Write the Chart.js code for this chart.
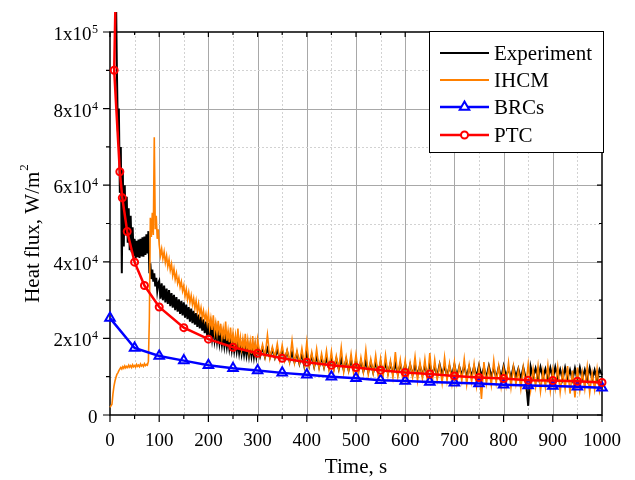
<!DOCTYPE html>
<html>
<head>
<meta charset="utf-8">
<script src="https://cdn.jsdelivr.net/npm/chart.js@4.4.0/dist/chart.umd.min.js"></script>
<style>
  html, body { margin: 0; padding: 0; background: #fff; }
  #chart { display: block; }
</style>
</head>
<body>
<canvas id="chart" width="635" height="480"></canvas>
<script>
// values in kW/m2 for the noisy series, W/m2 for the model points
const expEarlyStart = 10, expEarlyStep = 2;
const expEarly = [150, 112, 90, 74, 80, 58, 70, 37, 64, 44, 60, 47, 57, 45, 54, 43, 52, 42.5, 49, 41.5,
  46, 40.8, 45.5, 41.2, 45.8, 41.0, 46.0, 41.4, 46.4, 41.3, 46.6, 41.8, 47.2, 42.2, 48.0, 37.0, 39.6, 35.5,
  38.0, 34.8, 37.0, 33.6, 35.8, 32.4, 34.4];
const expMidStart = 100, expMidStep = 2.5;
const expMid = [
  35.0, 30.4, 34.4, 30.0, 33.8, 29.4, 33.0, 29.0, 32.6, 28.4,
  31.8, 28.0, 31.4, 27.4, 30.8, 27.0, 30.2, 26.4, 29.8, 26.0,
  29.4, 25.4, 28.8, 25.0, 28.2, 24.4, 27.8, 24.0, 27.2, 23.6,
  26.6, 23.0, 26.2, 22.6, 25.6, 22.0, 25.0, 21.4, 24.4, 20.8,
  24.0, 20.4, 23.4, 20.0, 23.0, 19.6, 22.4, 19.2, 22.0, 18.8,
  21.6, 18.4, 21.0, 18.0, 20.6, 17.8, 20.2, 17.4, 19.8, 17.0,
  19.6, 16.8, 19.2, 16.6, 19.0, 16.2, 18.6, 16.0, 18.4, 15.8,
  18.2, 15.6, 18.0, 15.4, 17.9, 15.4, 17.8, 15.2, 17.8, 15.3];
const expLateStart = 300, expLateStep = 5;
const expLate = [
  17.8, 15.2, 17.6, 15.1, 17.3, 15.0, 17.1, 14.9, 17.0, 14.8,
  16.8, 14.4, 16.6, 14.0, 16.3, 13.8, 16.1, 13.4, 16.0, 12.7,
  16.2, 12.9, 15.6, 12.6, 15.3, 12.5, 15.0, 12.4, 14.9, 12.3,
  14.8, 12.1, 14.7, 12.0, 14.5, 11.8, 14.4, 11.7, 14.3, 11.7,
  14.2, 11.5, 14.0, 11.4, 13.9, 11.2, 13.8, 11.1, 13.7, 11.1,
  13.6, 11.0, 13.5, 10.9, 13.4, 10.8, 13.3, 10.7, 13.3, 10.7,
  13.2, 10.6, 13.1, 10.5, 13.0, 10.5, 12.9, 10.4, 12.9, 10.3,
  13.3, 10.6, 12.7, 10.1, 13.2, 10.5, 12.8, 10.2, 12.7, 10.2,
  13.1, 10.0, 12.6, 10.4, 13.0, 9.9, 12.5, 10.1, 12.6, 9.9,
  12.9, 10.2, 12.4, 9.8, 12.8, 10.0, 12.3, 9.7, 12.5, 9.7,
  12.8, 10.0, 12.2, 9.6, 12.6, 9.9, 12.1, 9.5, 12.4, 9.6,
  2.4, 12.6, 9.8, 12.2, 9.5, 12.5, 9.7, 12.0, 9.4, 12.3,
  9.4, 12.5, 9.6, 11.9, 9.3, 12.4, 9.5, 11.8, 9.2, 12.2,
  9.2, 12.4, 9.4, 11.8, 9.1, 12.3, 9.3, 11.7, 9.0, 11.9,
  10.4];

const ihcmEarlyStart = 0, ihcmEarlyStep = 2;
const ihcmEarly = [2.0, 2.0, 2.8, 5.5, 7.5, 8.8, 9.8, 10.6, 11.0, 11.6, 12.0, 12.4, 12.0, 12.6, 12.2, 12.8,
  12.3, 12.7, 12.4, 13.0, 12.5, 12.9, 12.4, 13.1, 12.6, 12.9, 12.5, 13.2, 12.7, 13.0, 12.6, 13.3, 12.8,
  13.1, 12.7, 13.4, 12.9, 13.2, 13.0, 14.0, 25.0, 51.5, 46.5, 52.8, 47.0, 72.5, 48.5, 52.0, 46.0, 48.5];
const ihcmMidStart = 100, ihcmMidStep = 2.5;
const ihcmMid = [
  44.5, 41.6, 43.4, 40.8, 42.6, 39.8, 41.6, 38.8, 40.6, 37.8,
  39.4, 36.4, 38.2, 35.4, 37.0, 34.4, 35.8, 33.4, 34.8, 32.4,
  33.8, 31.0, 32.8, 30.2, 32.0, 29.4, 31.2, 28.8, 30.4, 27.8,
  29.8, 27.0, 29.0, 26.2, 28.0, 25.4, 27.2, 24.8, 26.4, 24.0,
  26.6, 22.8, 25.2, 22.2, 26.0, 21.6, 24.0, 21.2, 24.6, 20.8,
  23.8, 20.2, 22.6, 19.8, 24.4, 19.4, 22.0, 19.0, 22.8, 18.6,
  21.4, 18.2, 20.8, 17.8, 22.6, 17.4, 20.2, 17.2, 19.8, 16.8,
  21.2, 16.6, 19.6, 16.4, 19.2, 16.0, 20.6, 15.8, 18.8, 15.6];
const ihcmLateStart = 300, ihcmLateStep = 5;
const ihcmLate = [
  19.8, 15.6, 18.4, 15.2, 20.9, 14.8, 17.8, 15.0, 18.6, 14.4,
  18.2, 14.2, 17.0, 13.8, 19.4, 13.6, 16.8, 13.5, 17.4, 13.0,
  19.1, 12.8, 16.4, 12.6, 17.2, 12.2, 16.0, 12.4, 16.8, 11.8,
  16.6, 11.6, 15.4, 11.9, 17.6, 11.2, 15.2, 11.5, 16.0, 11.0,
  15.8, 10.8, 15.0, 11.2, 17.0, 10.6, 14.6, 10.9, 15.6, 10.2,
  14.8, 10.0, 15.6, 10.4, 14.2, 9.8, 16.4, 10.1, 14.4, 9.4,
  14.2, 9.2, 13.6, 9.8, 15.2, 9.0, 13.8, 9.5, 14.6, 8.8,
  16.2, 8.6, 14.4, 9.2, 13.2, 8.4, 15.0, 9.0, 13.4, 8.2,
  13.8, 8.4, 12.8, 8.9, 14.6, 8.0, 13.0, 8.6, 13.4, 7.6,
  12.6, 4.2, 13.8, 8.2, 12.4, 7.8, 14.2, 8.4, 12.8, 7.4,
  12.2, 7.8, 13.6, 7.2, 12.6, 8.0, 11.8, 6.8, 12.4, 7.6,
  13.2, 6.6, 12.0, 7.4, 12.8, 6.2, 11.6, 7.2, 13.0, 6.4,
  11.8, 7.0, 12.6, 6.0, 11.4, 6.8, 12.8, 5.6, 11.6, 4.6,
  12.4, 6.4, 11.2, 6.8, 12.6, 5.8, 11.0, 6.6, 12.0, 6.2,
  9.0];

const brcTime = [0, 50, 100, 150, 200, 250, 300, 350, 400, 450, 500, 550, 600, 650, 700, 750, 800, 850, 900, 950, 1000];
const brcFlux = [25300, 17500, 15400, 14200, 13000, 12200, 11600, 11000, 10500, 10000, 9600, 9100, 8900, 8600,
  8400, 8200, 7900, 7700, 7600, 7400, 7100];

const ptcTime = [13, 8.5, 20, 25, 35, 50, 70, 100, 150, 200, 250, 300, 350, 400, 450, 500, 550, 600, 650, 700,
  750, 800, 850, 900, 950, 1000];
const ptcFlux = [120000, 90000, 63500, 56700, 47900, 39900, 33800, 28200, 22800, 19800, 17700, 16100, 14800,
  13800, 13000, 12400, 11700, 11100, 10700, 10200, 9800, 9500, 9100, 9000, 8800, 8500];

const yTickLabels = { 0: ['0', ''], 20000: ['2x10', '4'], 40000: ['4x10', '4'], 60000: ['6x10', '4'],
  80000: ['8x10', '4'], 100000: ['1x10', '5'] };
const xTitle = 'Time, s';
const yTitle = ['Heat flux, W/m', '2'];

function seg(start, step, vals) {
  return vals.map((v, i) => ({ x: start + i * step, y: v * 1000 }));
}
function pairs(t, q) {
  return t.map((v, i) => ({ x: v, y: q[i] }));
}

const serif = '"Liberation Serif", "Times New Roman", serif';
const clip = { left: 10, top: 20, right: 10, bottom: 10 };

const framePlugin = {
  id: 'frame',
  beforeDatasetsDraw(chart) {
    const ctx = chart.ctx, a = chart.chartArea;
    const xs = chart.scales.x, ys = chart.scales.y;
    ctx.save();
    ctx.lineWidth = 1;
    xs.ticks.forEach(t => {
      if (t.value <= 0 || t.value >= 1000) return;
      const px = Math.round(xs.getPixelForValue(t.value)) + 0.5;
      const major = t.value % 100 === 0;
      ctx.strokeStyle = major ? '#a8a8a8' : '#d2d2d2';
      ctx.setLineDash(major ? [] : [2, 2]);
      ctx.beginPath(); ctx.moveTo(px, a.top); ctx.lineTo(px, a.bottom); ctx.stroke();
    });
    ys.ticks.forEach(t => {
      if (t.value <= 0 || t.value >= 100000) return;
      const py = Math.round(ys.getPixelForValue(t.value)) + 0.5;
      const major = t.value % 20000 === 0;
      ctx.strokeStyle = major ? '#a8a8a8' : '#d2d2d2';
      ctx.setLineDash(major ? [] : [2, 2]);
      ctx.beginPath(); ctx.moveTo(a.left, py); ctx.lineTo(a.right, py); ctx.stroke();
    });
    ctx.setLineDash([]);
    ctx.strokeStyle = '#000';
    ctx.lineWidth = 1.5;
    ctx.strokeRect(a.left, a.top, a.right - a.left, a.bottom - a.top);
    ctx.lineWidth = 1.2;
    xs.ticks.forEach(t => {
      const px = xs.getPixelForValue(t.value);
      const major = t.value % 100 === 0;
      ctx.beginPath();
      ctx.moveTo(px, a.bottom); ctx.lineTo(px, a.bottom + (major ? 7 : 4));
      ctx.moveTo(px, a.top); ctx.lineTo(px, a.top + (major ? 5 : 3));
      ctx.stroke();
    });
    ys.ticks.forEach(t => {
      const py = ys.getPixelForValue(t.value);
      const major = t.value % 20000 === 0;
      ctx.beginPath();
      ctx.moveTo(a.left, py); ctx.lineTo(a.left - (major ? 7 : 4), py);
      ctx.moveTo(a.right, py); ctx.lineTo(a.right - (major ? 5 : 3), py);
      ctx.stroke();
    });
    ctx.restore();
  },
  afterDatasetsDraw(chart) {
    const ctx = chart.ctx;
    // legend box
    const bx = 429, by = 31, bw = 174, bh = 121;
    ctx.save();
    ctx.fillStyle = '#fff';
    ctx.fillRect(bx, by, bw, bh);
    ctx.strokeStyle = '#000';
    ctx.lineWidth = 1;
    ctx.strokeRect(bx + 0.5, by + 0.5, bw, bh);
    const rows = [53, 80, 107, 135];
    chart.data.datasets.forEach((ds, i) => {
      const y = rows[i];
      ctx.strokeStyle = ds.borderColor;
      ctx.lineWidth = Math.max(ds.borderWidth, 2);
      ctx.beginPath(); ctx.moveTo(440, y); ctx.lineTo(489, y); ctx.stroke();
      if (ds.pointRadius > 0) {
        const cx = 464.5, r = ds.pointRadius;
        ctx.lineWidth = ds.pointBorderWidth;
        ctx.fillStyle = '#fff';
        ctx.beginPath();
        if (ds.pointStyle === 'triangle') {
          for (let k = 0; k < 3; k++) {
            const ang = k * 2 * Math.PI / 3;
            const px = cx + Math.sin(ang) * r, py = y - Math.cos(ang) * r;
            if (k === 0) ctx.moveTo(px, py); else ctx.lineTo(px, py);
          }
          ctx.closePath();
        } else {
          ctx.arc(cx, y, r, 0, Math.PI * 2);
        }
        ctx.fill(); ctx.stroke();
      }
      ctx.fillStyle = '#000';
      ctx.font = '21px ' + serif;
      ctx.textBaseline = 'alphabetic';
      ctx.textAlign = 'left';
      ctx.fillText(ds.label, 494, y + 7);
    });
    ctx.restore();
  },
  afterDraw(chart) {
    const ctx = chart.ctx, a = chart.chartArea;
    const xs = chart.scales.x, ys = chart.scales.y;
    ctx.save();
    ctx.fillStyle = '#000';
    ctx.textBaseline = 'alphabetic';
    // x tick labels
    ctx.font = '19px ' + serif;
    ctx.textAlign = 'center';
    xs.ticks.forEach(t => {
      if (t.value % 100 !== 0) return;
      ctx.fillText(String(t.value), xs.getPixelForValue(t.value), a.bottom + 31);
    });
    // y tick labels with exponent
    ys.ticks.forEach(t => {
      const lab = yTickLabels[t.value];
      if (!lab) return;
      const py = ys.getPixelForValue(t.value);
      ctx.font = '12px ' + serif;
      const ws = ctx.measureText(lab[1]).width;
      const right = 98;
      ctx.textAlign = 'left';
      if (lab[1]) ctx.fillText(lab[1], right - ws, py + 1);
      ctx.font = '19px ' + serif;
      ctx.textAlign = 'right';
      ctx.fillText(lab[0], right - ws - 0.5, py + 8);
    });
    // x title
    ctx.font = '21px ' + serif;
    ctx.textAlign = 'center';
    ctx.fillText(xTitle, (a.left + a.right) / 2, 473);
    // y title, rotated
    ctx.translate(39, 234);
    ctx.rotate(-Math.PI / 2);
    ctx.font = '21px ' + serif;
    const wm = ctx.measureText(yTitle[0]).width;
    ctx.font = '13px ' + serif;
    const wsup = ctx.measureText(yTitle[1]).width;
    const x0 = -(wm + wsup) / 2;
    ctx.textAlign = 'left';
    ctx.font = '21px ' + serif;
    ctx.fillText(yTitle[0], x0, 0);
    ctx.font = '13px ' + serif;
    ctx.fillText(yTitle[1], x0 + wm + 1, -11);
    ctx.restore();
  }
};

const ctx = document.getElementById('chart').getContext('2d');
new Chart(ctx, {
  type: 'line',
  data: {
    datasets: [
      {
        label: 'Experiment',
        data: seg(expEarlyStart, expEarlyStep, expEarly)
          .concat(seg(expMidStart, expMidStep, expMid), seg(expLateStart, expLateStep, expLate)),
        borderColor: '#000000', borderWidth: 2, pointRadius: 0, order: 4, clip: clip
      },
      {
        label: 'IHCM',
        data: seg(ihcmEarlyStart, ihcmEarlyStep, ihcmEarly)
          .concat(seg(ihcmMidStart, ihcmMidStep, ihcmMid), seg(ihcmLateStart, ihcmLateStep, ihcmLate)),
        borderColor: '#ff8000', borderWidth: 1.6, pointRadius: 0, order: 3, clip: clip
      },
      {
        label: 'BRCs',
        data: pairs(brcTime, brcFlux),
        borderColor: '#0000ff', borderWidth: 2.5, pointStyle: 'triangle', pointRadius: 5.5,
        pointBorderWidth: 2, pointBorderColor: '#0000ff', pointBackgroundColor: 'rgba(255,255,255,0)',
        order: 2, clip: clip
      },
      {
        label: 'PTC',
        data: pairs(ptcTime, ptcFlux),
        borderColor: '#ff0000', borderWidth: 2.5, pointStyle: 'circle', pointRadius: 3.5,
        pointBorderWidth: 2, pointBorderColor: '#ff0000', pointBackgroundColor: 'rgba(255,255,255,0)',
        order: 1, clip: clip
      }
    ]
  },
  options: {
    responsive: false,
    animation: false,
    layout: { padding: { left: 0, right: 33, top: 32, bottom: 0 } },
    plugins: { legend: { display: false }, tooltip: { enabled: false } },
    elements: { line: { tension: 0 } },
    scales: {
      x: {
        type: 'linear', min: 0, max: 1000,
        ticks: { display: false, stepSize: 50 },
        grid: { display: false }, border: { display: false },
        afterFit: s => { s.height = 65; }
      },
      y: {
        type: 'linear', min: 0, max: 100000,
        ticks: { display: false, stepSize: 10000 },
        grid: { display: false }, border: { display: false },
        afterFit: s => { s.width = 110; }
      }
    }
  },
  plugins: [framePlugin]
});
</script>
</body>
</html>
